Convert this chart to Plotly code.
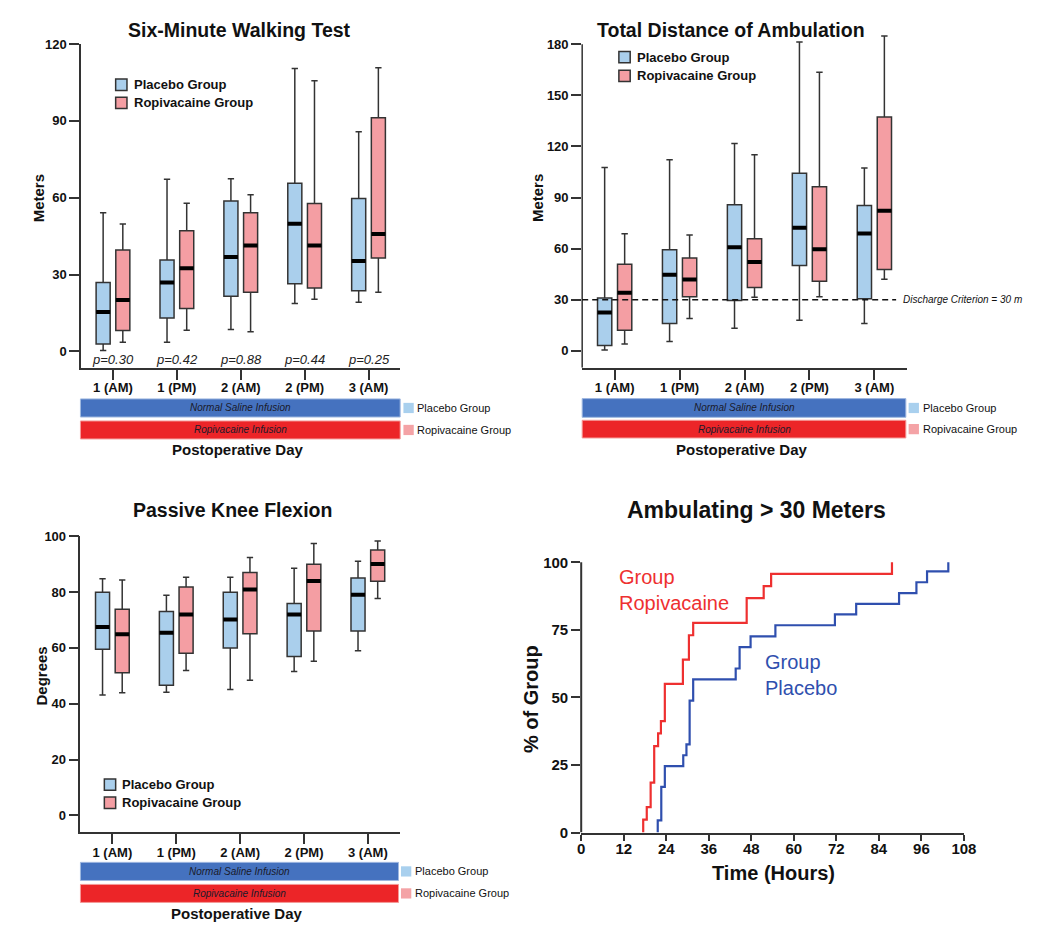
import plotly.graph_objects as go

# ---------------- DATA ----------------
categories = ["1 (AM)", "1 (PM)", "2 (AM)", "2 (PM)", "3 (AM)"]

# Six-Minute Walking Test (meters)
smwt_placebo_min = [0.4, 3.6, 8.6, 18.7, 19.2]
smwt_placebo_q1 = [2.9, 13.1, 21.6, 26.4, 23.7]
smwt_placebo_med = [15.4, 26.9, 36.9, 49.9, 35.3]
smwt_placebo_q3 = [26.9, 35.7, 58.7, 65.7, 59.7]
smwt_placebo_max = [54.2, 67.2, 67.4, 110.5, 85.8]
smwt_ropi_min = [3.6, 8.3, 7.7, 20.4, 23.1]
smwt_ropi_q1 = [8.2, 16.8, 23.1, 24.8, 36.5]
smwt_ropi_med = [20.1, 32.5, 41.4, 41.4, 45.9]
smwt_ropi_q3 = [39.6, 47.1, 54.2, 57.8, 91.2]
smwt_ropi_max = [49.8, 57.9, 61.2, 105.7, 110.8]
smwt_pvalues = ["p=0.30", "p=0.42", "p=0.88", "p=0.44", "p=0.25"]

# Total Distance of Ambulation (meters)
tda_placebo_min = [0.4, 5.4, 13.3, 17.9, 16.0]
tda_placebo_q1 = [3.1, 16.0, 29.6, 50.1, 30.6]
tda_placebo_med = [22.5, 44.7, 60.8, 72.2, 68.9]
tda_placebo_q3 = [31.0, 59.3, 85.7, 104.2, 85.3]
tda_placebo_max = [107.6, 112.2, 121.7, 181.4, 107.4]
tda_ropi_min = [4.0, 18.9, 31.4, 31.8, 42.0]
tda_ropi_q1 = [12.1, 31.8, 37.2, 40.8, 47.7]
tda_ropi_med = [34.1, 41.8, 52.2, 59.7, 82.2]
tda_ropi_q3 = [50.8, 54.5, 65.8, 96.3, 137.3]
tda_ropi_max = [68.7, 68.0, 115.1, 163.5, 184.8]
discharge_criterion = 30

# Passive Knee Flexion (degrees)
pkf_placebo_min = [43.1, 44.1, 45.1, 51.5, 59.0]
pkf_placebo_q1 = [59.5, 46.6, 59.9, 56.9, 66.0]
pkf_placebo_med = [67.5, 65.4, 70.1, 71.9, 79.0]
pkf_placebo_q3 = [79.9, 73.0, 79.9, 75.9, 85.0]
pkf_placebo_max = [84.7, 78.8, 85.3, 88.5, 91.0]
pkf_ropi_min = [43.9, 51.9, 48.4, 55.2, 77.7]
pkf_ropi_q1 = [51.1, 58.1, 65.0, 66.0, 83.8]
pkf_ropi_med = [64.9, 71.9, 80.9, 83.9, 90.0]
pkf_ropi_q3 = [73.8, 81.8, 87.0, 89.9, 95.0]
pkf_ropi_max = [84.3, 85.3, 92.3, 97.3, 98.2]

# Ambulating > 30 meters (cumulative % of group vs hours)
ropi_hours = [17.5, 18.5, 19.6, 20.6, 21.7, 22.5, 23.6, 28.7, 30.4, 31.6, 46.7, 51.5, 53.6, 87.7]
ropi_pct = [4.8, 9.4, 18.5, 32.0, 36.7, 41.2, 55.0, 64.0, 73.0, 77.6, 86.7, 91.2, 95.7, 100.0]
placebo_hours = [21.6, 22.6, 23.6, 28.8, 29.7, 30.6, 31.6, 43.6, 44.7, 47.8, 54.8, 71.6, 77.6, 89.7, 94.6, 97.6, 103.6]
placebo_pct = [4.5, 16.9, 24.6, 28.6, 32.6, 48.8, 56.7, 60.7, 68.6, 72.6, 76.7, 80.7, 84.6, 88.6, 92.6, 96.6, 100.0]

# ---------------- STYLE ----------------
W, H = 1050, 936
FONT = "Arial, Liberation Sans, Helvetica, sans-serif"
PLACEBO_FILL = "#aacfec"
ROPI_FILL = "#f49ea3"
BOX_LINE = "#333333"
BAR_BLUE = "#4572bf"
BAR_RED = "#ec2528"
LINE_RED = "#ee3030"
LINE_BLUE = "#2f4fae"
AX = "#333333"


def px(x):
    return x / W


def py(y):
    return 1 - y / H


fig = go.Figure()


def add_box_panel(xa, ya, pl, ro):
    for name, d, fill, grp in (("Placebo Group", pl, PLACEBO_FILL, "p"),
                               ("Ropivacaine Group", ro, ROPI_FILL, "r")):
        mn, q1, med, q3, mx = d
        fig.add_trace(go.Box(
            x=categories, q1=q1, median=med, q3=q3, lowerfence=mn, upperfence=mx,
            name=name, xaxis=xa, yaxis=ya, offsetgroup=grp,
            fillcolor=fill, line=dict(color=BOX_LINE, width=1.5),
            whiskerwidth=0.45, boxpoints=False, showlegend=False, hoverinfo="skip"))
        # thick black median bar
        fig.add_trace(go.Box(
            x=categories, q1=med, median=med, q3=med, lowerfence=med, upperfence=med,
            name=name + " median", xaxis=xa, yaxis=ya, offsetgroup=grp,
            fillcolor="black", line=dict(color="black", width=4),
            whiskerwidth=0, boxpoints=False, showlegend=False, hoverinfo="skip"))


add_box_panel("x", "y",
              (smwt_placebo_min, smwt_placebo_q1, smwt_placebo_med, smwt_placebo_q3, smwt_placebo_max),
              (smwt_ropi_min, smwt_ropi_q1, smwt_ropi_med, smwt_ropi_q3, smwt_ropi_max))
add_box_panel("x2", "y2",
              (tda_placebo_min, tda_placebo_q1, tda_placebo_med, tda_placebo_q3, tda_placebo_max),
              (tda_ropi_min, tda_ropi_q1, tda_ropi_med, tda_ropi_q3, tda_ropi_max))
add_box_panel("x3", "y3",
              (pkf_placebo_min, pkf_placebo_q1, pkf_placebo_med, pkf_placebo_q3, pkf_placebo_max),
              (pkf_ropi_min, pkf_ropi_q1, pkf_ropi_med, pkf_ropi_q3, pkf_ropi_max))

# step curves
fig.add_trace(go.Scatter(x=[ropi_hours[0]] + ropi_hours, y=[0] + ropi_pct, mode="lines",
                         line=dict(color=LINE_RED, width=2.2, shape="hv"),
                         xaxis="x4", yaxis="y4", showlegend=False, name="Group Ropivacaine"))
fig.add_trace(go.Scatter(x=[placebo_hours[0]] + placebo_hours, y=[0] + placebo_pct, mode="lines",
                         line=dict(color=LINE_BLUE, width=2.2, shape="hv"),
                         xaxis="x4", yaxis="y4", showlegend=False, name="Group Placebo"))

tickfont13 = dict(family=FONT, size=13, color="#111", weight="bold")
tickfont15 = dict(family=FONT, size=15, color="#111", weight="bold")


def cat_xaxis(dom, anchor):
    return dict(domain=dom, anchor=anchor, type="category", categoryorder="array",
                categoryarray=categories, range=[-0.5, 4.5], showline=True, linecolor=AX,
                linewidth=1.5, ticks="outside", ticklen=10, tickwidth=1.5, tickcolor=AX,
                ticklabelstandoff=-3,
                tickfont=tickfont13, showgrid=False, zeroline=False, fixedrange=True)


def val_yaxis(dom, anchor, rng, tv, showline=True):
    return dict(domain=dom, anchor=anchor, range=rng, tickvals=tv, showline=showline,
                linecolor=AX, linewidth=1.5, ticks="outside", ticklen=10, tickwidth=1.5,
                tickcolor=AX, tickfont=tickfont13, showgrid=False, zeroline=False)


fig.update_layout(
    width=W, height=H, margin=dict(l=0, r=0, t=0, b=0),
    paper_bgcolor="white", plot_bgcolor="white", showlegend=False,
    boxmode="group", boxgap=0.384, boxgroupgap=0.286,
    font=dict(family=FONT, color="#111"),
    xaxis=cat_xaxis([px(78.3), px(403)], "y"),
    yaxis=val_yaxis([py(367), py(37.7)], "x", [-6.5, 120], [0, 30, 60, 90, 120]),
    xaxis2=cat_xaxis([px(587.7), px(917.7)], "y2"),
    yaxis2=val_yaxis([py(366.7), py(27.5)], "x2", [-10, 186], [0, 30, 60, 90, 120, 150, 180], showline=False),
    xaxis3=cat_xaxis([px(77.7), px(402.3)], "y3"),
    yaxis3=val_yaxis([py(838.7), py(537.7)], "x3", [-6, 100], [0, 20, 40, 60, 80, 100]),
    xaxis4=dict(domain=[px(586.7), px(975.7)], anchor="y4", range=[0, 108],
                tickvals=list(range(0, 109, 12)), showline=True, linecolor=AX, linewidth=2,
                ticks="outside", ticklen=6, tickwidth=2, tickcolor=AX, tickfont=tickfont15,
                ticklabelstandoff=-5, showgrid=False, zeroline=False),
    yaxis4=dict(domain=[py(839), py(560.2)], anchor="x4", range=[0, 101.5],
                tickvals=[0, 25, 50, 75, 100], showline=False, ticks="outside", ticklen=9,
                tickwidth=2, tickcolor=AX, tickfont=tickfont15, showgrid=False, zeroline=False),
)

shapes = []
ann = []

# y-axis lines drawn to exact extents
shapes.append(dict(type="line", xref="x2 domain", yref="y2", x0=0, x1=0, y0=-10, y1=180,
                   line=dict(color=AX, width=1.5)))
shapes.append(dict(type="line", xref="x4 domain", yref="y4", x0=0, x1=0, y0=0, y1=100,
                   line=dict(color=AX, width=2)))

# discharge criterion
shapes.append(dict(type="line", xref="x2 domain", yref="y2", x0=0, x1=0.967,
                   y0=discharge_criterion, y1=discharge_criterion,
                   line=dict(color="#111", width=1.5, dash="6px,4px")))
ann.append(dict(text="<i>Discharge Criterion = 30 m</i>", xref="paper", yref="y2",
                x=px(912), y=discharge_criterion, xanchor="left", yanchor="middle",
                showarrow=False, font=dict(size=10, color="#111")))

# p-values
for c, p in zip(categories, smwt_pvalues):
    ann.append(dict(text="<i>" + p + "</i>", xref="x", yref="y", x=c, y=0, yanchor="top",
                    yshift=1, showarrow=False, font=dict(size=13, color="#222")))

# titles
def title(text, x, y, size):
    ann.append(dict(text="<b>" + text + "</b>", xref="paper", yref="paper", x=px(x), y=py(y),
                    xanchor="center", yanchor="middle", showarrow=False,
                    font=dict(size=size, color="#111")))


title("Six-Minute Walking Test", 239, 23, 19.5)
title("Total Distance of Ambulation", 739, 23, 19.5)
title("Passive Knee Flexion", 232, 511, 19.5)
title("Ambulating > 30 Meters", 765, 511, 23)
title("Postoperative Day", 238, 450, 15)
title("Postoperative Day", 750, 450, 15)
title("Postoperative Day", 237, 921, 15)
title("Time (Hours)", 782, 880, 20)


def ytitle(text, x, y, size):
    ann.append(dict(text="<b>" + text + "</b>", xref="paper", yref="paper", x=px(x), y=py(y),
                    xanchor="center", yanchor="middle", textangle=-90, showarrow=False,
                    font=dict(size=size, color="#111")))


ytitle("Meters", 35, 194, 15)
ytitle("Meters", 543, 194, 15)
ytitle("Degrees", 38, 680, 15)
ytitle("% of Group", 535, 703, 20)

# in-plot legends (outlined swatches)
def box_legend(x_sq, y_pl, y_ro, x_txt):
    for yc, fill, label in ((y_pl, PLACEBO_FILL, "Placebo Group"), (y_ro, ROPI_FILL, "Ropivacaine Group")):
        shapes.append(dict(type="rect", xref="paper", yref="paper", x0=px(x_sq), x1=px(x_sq + 11.5),
                           y0=py(yc + 5.75), y1=py(yc - 5.75), fillcolor=fill,
                           line=dict(color=BOX_LINE, width=1.5)))
        ann.append(dict(text="<b>" + label + "</b>", xref="paper", yref="paper", x=px(x_txt),
                        y=py(yc), xanchor="left", yanchor="middle", showarrow=False,
                        font=dict(size=13, color="#111")))


box_legend(113.5, 79, 97.5, 130)
box_legend(625, 51, 70, 641)
box_legend(102, 790.3, 808.7, 118)

# infusion bars under box panels
def infusion_bars(x0, x1, yb0, yb1, yr0, yr1, xsq, xtxt):
    shapes.append(dict(type="rect", xref="paper", yref="paper", x0=px(x0), x1=px(x1),
                       y0=py(yb1), y1=py(yb0), fillcolor=BAR_BLUE, line=dict(color="#9fb8e0", width=1)))
    shapes.append(dict(type="rect", xref="paper", yref="paper", x0=px(x0), x1=px(x1),
                       y0=py(yr1), y1=py(yr0), fillcolor=BAR_RED, line=dict(color="#f59a98", width=1)))
    xc = (x0 + x1) / 2
    ann.append(dict(text="<i>Normal Saline Infusion</i>", xref="paper", yref="paper", x=px(xc),
                    y=py((yb0 + yb1) / 2), xanchor="center", yanchor="middle", showarrow=False,
                    font=dict(size=10, color="#1a1a2a")))
    ann.append(dict(text="<i>Ropivacaine Infusion</i>", xref="paper", yref="paper", x=px(xc),
                    y=py((yr0 + yr1) / 2), xanchor="center", yanchor="middle", showarrow=False,
                    font=dict(size=10, color="#1a1a2a")))
    for (a, b), fill, label in (((yb0, yb1), "#a9d0ee", "Placebo Group"),
                                ((yr0, yr1), "#f4a3a6", "Ropivacaine Group")):
        yc = (a + b) / 2
        shapes.append(dict(type="rect", xref="paper", yref="paper", x0=px(xsq), x1=px(xsq + 10.5),
                           y0=py(yc + 5.2), y1=py(yc - 5.2), fillcolor=fill, line=dict(width=0)))
        ann.append(dict(text=label, xref="paper", yref="paper", x=px(xtxt), y=py(yc),
                        xanchor="left", yanchor="middle", showarrow=False,
                        font=dict(size=11, color="#111")))


infusion_bars(77.7, 402.7, 398.3, 416.7, 420.7, 439, 406, 417.5)
infusion_bars(587.7, 916.7, 398, 417, 420, 438, 919.5, 932.5)
infusion_bars(77.7, 401, 869.3, 887.7, 891.7, 910, 403.5, 416)

# curve labels
ann.append(dict(text="Group<br>Ropivacaine", xref="x4", yref="y4", x=10.1, y=89.8,
                xanchor="left", yanchor="middle", align="left", showarrow=False,
                font=dict(size=20, color=LINE_RED)))
ann.append(dict(text="Group<br>Placebo", xref="x4", yref="y4", x=51.4, y=58.2,
                xanchor="left", yanchor="middle", align="left", showarrow=False,
                font=dict(size=20, color=LINE_BLUE)))

fig.update_layout(shapes=shapes, annotations=ann)

fig.write_html("out.html", config={"displayModeBar": False},
               post_script="document.body.style.margin='0px';document.body.style.overflow='hidden';")
